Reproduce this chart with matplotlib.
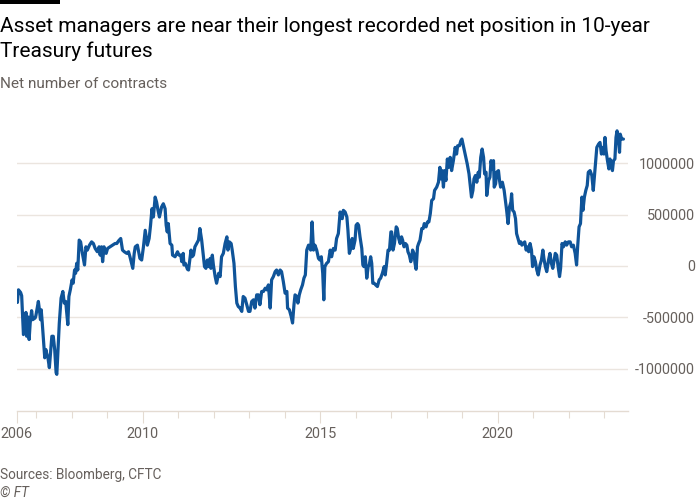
import matplotlib
matplotlib.use("Agg")
import matplotlib.pyplot as plt
from matplotlib.patches import Rectangle
import numpy as np

# ---- data (decimal year, net contracts in thousands) ----
period_2006_2010 = [
    (2006.45, -297), (2006.47, -355), (2006.50, -232), (2006.56, -258), (2006.59, -290),
    (2006.64, -668), (2006.67, -619), (2006.71, -452), (2006.73, -684), (2006.75, -635),
    (2006.78, -497), (2006.80, -716), (2006.83, -555), (2006.87, -435), (2006.90, -523),
    (2006.97, -506), (2006.99, -484), (2007.06, -345), (2007.09, -426), (2007.12, -523),
    (2007.14, -426), (2007.17, -555), (2007.22, -797), (2007.24, -894), (2007.27, -813),
    (2007.29, -845), (2007.33, -894), (2007.37, -990), (2007.41, -813), (2007.44, -684),
    (2007.48, -684), (2007.52, -813), (2007.56, -1039), (2007.58, -1055), (2007.61, -845),
    (2007.65, -555), (2007.70, -313), (2007.75, -248), (2007.79, -361), (2007.83, -345),
    (2007.89, -571), (2007.92, -297), (2007.96, -232), (2008.01, -135), (2008.04, -168),
    (2008.08, -39), (2008.11, -71), (2008.14, 26), (2008.17, -39), (2008.21, 252),
    (2008.25, 235), (2008.30, 123), (2008.36, 10), (2008.40, 187), (2008.44, 155),
    (2008.50, 203), (2008.56, 235), (2008.61, 219), (2008.66, 171), (2008.72, 139),
    (2008.77, 187), (2008.80, 106), (2008.84, 187), (2008.87, 42), (2008.91, 187),
    (2008.97, 123), (2009.01, 171), (2009.08, 187), (2009.15, 203), (2009.22, 219),
    (2009.27, 219), (2009.32, 245), (2009.38, 268), (2009.43, 155), (2009.48, 139),
    (2009.55, 123), (2009.60, 139), (2009.64, 90), (2009.72, -23), (2009.76, 123),
    (2009.79, 187), (2009.85, 203), (2009.92, 74), (2009.97, 58), (2010.02, 187),
    (2010.07, 348), (2010.13, 203), (2010.18, 268), (2010.22, 397), (2010.26, 558),
    (2010.30, 477), (2010.35, 671), (2010.39, 623), (2010.43, 542), (2010.47, 477),
]
period_2010_2015 = [
    (2010.53, 574), (2010.58, 606), (2010.63, 558), (2010.66, 397), (2010.69, 332),
    (2010.72, 413), (2010.77, 219), (2010.82, 203), (2010.84, 106), (2010.91, 90),
    (2010.98, 139), (2011.02, 106), (2011.07, 106), (2011.10, 42), (2011.14, 123),
    (2011.16, 10), (2011.20, 26), (2011.26, -32), (2011.29, -39), (2011.33, 74),
    (2011.36, 155), (2011.39, 90), (2011.43, 106), (2011.47, 187), (2011.52, 219),
    (2011.57, 252), (2011.61, 365), (2011.66, 252), (2011.69, 155), (2011.74, -6),
    (2011.78, -23), (2011.82, 58), (2011.86, -6), (2011.90, 74), (2011.92, -23),
    (2011.96, 106), (2011.99, 10), (2012.04, -103), (2012.08, -168), (2012.14, -71),
    (2012.18, -103), (2012.22, 90), (2012.27, 123), (2012.32, 219), (2012.37, 284),
    (2012.40, 155), (2012.44, 235), (2012.49, 219), (2012.52, 155), (2012.57, 26),
    (2012.61, -200), (2012.65, -361), (2012.69, -394), (2012.74, -410), (2012.79, -442),
    (2012.83, -297), (2012.88, -313), (2012.93, -377), (2012.98, -442), (2013.02, -442),
    (2013.07, -345), (2013.12, -329), (2013.16, -410), (2013.21, -281), (2013.26, -281),
    (2013.30, -377), (2013.35, -248), (2013.40, -248), (2013.45, -216), (2013.49, -232),
    (2013.54, -184), (2013.59, -410), (2013.63, -135), (2013.68, -103), (2013.73, -55),
    (2013.77, -39), (2013.82, -87), (2013.87, -39), (2013.91, -55), (2013.96, -152),
    (2014.01, -265), (2014.06, -248), (2014.08, -410), (2014.13, -426), (2014.18, -490),
    (2014.22, -555), (2014.26, -377), (2014.29, -281), (2014.34, -297), (2014.37, -361),
    (2014.41, -281), (2014.45, -232), (2014.50, -184), (2014.54, -119), (2014.58, -87),
    (2014.62, 155), (2014.67, 203), (2014.73, 155), (2014.77, 429), (2014.81, 155),
    (2014.85, 203), (2014.90, 155), (2014.95, 74), (2014.99, 58), (2015.03, 90),
    (2015.07, -71), (2015.10, -329), (2015.13, -6), (2015.18, 26),
]
period_2015_2019 = [
    (2015.23, 42), (2015.28, 155), (2015.32, 90), (2015.37, 171), (2015.42, 155),
    (2015.46, 268), (2015.51, 316), (2015.56, 526), (2015.59, 477), (2015.62, 461),
    (2015.65, 542), (2015.70, 526), (2015.75, 477), (2015.78, 348), (2015.82, 123),
    (2015.86, 171), (2015.90, 268), (2015.93, 171), (2015.98, 252), (2016.01, 397),
    (2016.05, 413), (2016.08, 397), (2016.12, 284), (2016.17, 171), (2016.20, 10),
    (2016.23, -6), (2016.27, 90), (2016.31, -119), (2016.35, -6), (2016.38, 10),
    (2016.42, 90), (2016.45, 26), (2016.48, -168), (2016.52, -168), (2016.56, -184),
    (2016.61, -200), (2016.66, -135), (2016.70, -119), (2016.75, -71), (2016.80, -6),
    (2016.83, -87), (2016.87, 26), (2016.91, 155), (2016.95, 155), (2016.99, 332),
    (2017.01, 332), (2017.05, 155), (2017.09, 219), (2017.14, 381), (2017.17, 365),
    (2017.21, 268), (2017.25, 219), (2017.29, 284), (2017.32, 252), (2017.36, 187),
    (2017.40, 219), (2017.44, 203), (2017.47, 139), (2017.51, 106), (2017.55, 42),
    (2017.58, 90), (2017.60, 155), (2017.64, 123), (2017.67, 26), (2017.70, -32),
    (2017.74, 187), (2017.77, 219), (2017.81, 252), (2017.86, 365), (2017.90, 365),
    (2017.93, 413), (2017.98, 381), (2018.02, 429), (2018.06, 429), (2018.10, 510),
    (2018.14, 639), (2018.19, 655), (2018.22, 736), (2018.28, 768), (2018.33, 816),
    (2018.37, 961), (2018.39, 848), (2018.43, 929), (2018.47, 768), (2018.50, 929),
    (2018.54, 832), (2018.58, 1042), (2018.62, 961), (2018.66, 1058), (2018.70, 929),
    (2018.75, 1026), (2018.80, 1155), (2018.84, 1090), (2018.87, 1171), (2018.92, 1171),
    (2018.96, 1219), (2018.99, 1236), (2019.03, 1171), (2019.07, 1107), (2019.11, 1042),
    (2019.14, 994), (2019.19, 897), (2019.22, 800), (2019.26, 671), (2019.30, 736),
    (2019.33, 848), (2019.37, 881), (2019.41, 816), (2019.45, 913), (2019.48, 865),
    (2019.52, 1058), (2019.56, 1139), (2019.60, 1058), (2019.63, 897), (2019.67, 913),
    (2019.69, 687),
]
period_2019_2023 = [
    (2019.74, 832), (2019.78, 865), (2019.81, 1026), (2019.85, 945), (2019.88, 1026),
    (2019.90, 768), (2019.94, 800), (2019.97, 913), (2020.02, 929), (2020.05, 832),
    (2020.08, 768), (2020.13, 816), (2020.18, 736), (2020.21, 655), (2020.25, 542),
    (2020.29, 413), (2020.33, 574), (2020.37, 623), (2020.39, 703), (2020.42, 542),
    (2020.46, 526), (2020.50, 461), (2020.53, 316), (2020.57, 268), (2020.61, 219),
    (2020.65, 235), (2020.68, 203), (2020.72, 219), (2020.76, 235), (2020.80, 155),
    (2020.83, 187), (2020.87, 139), (2020.91, 219), (2020.95, 155), (2020.98, -6),
    (2021.02, 90), (2021.06, 42), (2021.10, -39), (2021.14, -87), (2021.19, 10),
    (2021.23, 58), (2021.27, 155), (2021.30, 74), (2021.34, -6), (2021.38, -55),
    (2021.43, 58), (2021.47, 123), (2021.51, 26), (2021.55, -23), (2021.59, 58),
    (2021.62, 123), (2021.66, 106), (2021.70, -6), (2021.74, -103), (2021.77, -23),
    (2021.81, 219), (2021.85, 187), (2021.90, 235), (2021.94, 203), (2021.99, 235),
    (2022.04, 235), (2022.08, 187), (2022.13, 203), (2022.18, 123), (2022.22, 10),
    (2022.25, 187), (2022.29, 381), (2022.33, 413), (2022.37, 671), (2022.40, 542),
    (2022.44, 671), (2022.48, 736), (2022.52, 784), (2022.55, 913), (2022.60, 929),
    (2022.65, 881), (2022.69, 736), (2022.72, 865), (2022.76, 1026), (2022.79, 1155),
    (2022.84, 1187), (2022.88, 1203), (2022.92, 1090), (2022.96, 1155), (2022.99, 1090),
    (2023.02, 1252), (2023.05, 1123), (2023.09, 1026), (2023.13, 945), (2023.16, 1042),
    (2023.20, 977), (2023.23, 929), (2023.26, 1026), (2023.30, 1042), (2023.33, 1252),
    (2023.36, 1316), (2023.39, 1268), (2023.43, 1107), (2023.45, 1284), (2023.49, 1236),
    (2023.54, 1236),
]

y_ticks = [-1000000, -500000, 0, 500000, 1000000]
y_tick_labels = ["-1000000", "-500000", "0", "500000", "1000000"]
x_major_ticks = [2006.45, 2010, 2015, 2020]
x_major_labels = ["2006", "2010", "2015", "2020"]
x_minor_ticks = list(range(2007, 2024))

title_lines = ["Asset managers are near their longest recorded net position in 10-year",
               "Treasury futures"]
subtitle = "Net number of contracts"
source = "Sources: Bloomberg, CFTC"
credit = "\u00a9 FT"

# ---- figure ----
W, H = 700, 500
plt.rcParams["font.family"] = ["Roboto", "DejaVu Sans"]
fig = plt.figure(figsize=(W / 100, H / 100), dpi=100, facecolor="white")

ax_left, ax_right, ax_top, ax_bottom = 16.7, 627.7, 110.0, 410.7
ax = fig.add_axes([ax_left / W, 1 - ax_bottom / H, (ax_right - ax_left) / W, (ax_bottom - ax_top) / H])
ax.set_facecolor("white")

all_pts = period_2006_2010 + period_2010_2015 + period_2015_2019 + period_2019_2023
xs = np.array([p[0] for p in all_pts])
ys = np.array([p[1] for p in all_pts]) * 1000.0
ax.plot(xs, ys, color="#0f5499", lw=2.3, solid_joinstyle="round", solid_capstyle="round", zorder=3)

ax.set_xlim(2006.45, 2023.66)
ax.set_ylim(-1.409e6, 1.519e6)

for s in ["top", "left", "right"]:
    ax.spines[s].set_visible(False)
ax.spines["bottom"].set_color("#e4dbd2")
ax.spines["bottom"].set_linewidth(1.0)

grid_c = "#ebe5df"
ax.set_yticks(y_ticks)
ax.set_yticklabels(y_tick_labels)
ax.yaxis.tick_right()
ax.tick_params(axis="y", length=0, pad=48.5, labelsize=10.4, labelcolor="#66605c")
for lbl in ax.get_yticklabels():
    lbl.set_horizontalalignment("right")
ax.grid(axis="y", color=grid_c, lw=1.0, zorder=0)

ax.set_xticks(x_major_ticks)
ax.set_xticklabels(x_major_labels)
ax.set_xticks(x_minor_ticks, minor=True)
ax.tick_params(axis="x", which="major", length=8.4, width=0.8, color="#e4dbd2",
               pad=3.5, labelsize=10.4, labelcolor="#66605c")
ax.tick_params(axis="x", which="minor", length=5.0, width=0.8, color="#e4dbd2")

# ---- texts ----
renderer = fig.canvas.get_renderer()

def fit_text(x_px, base_px, s, target_w, **kw):
    t = fig.text(x_px / W, 1 - base_px / H, s, ha="left", va="baseline", fontsize=10, **kw)
    w = t.get_window_extent(renderer).width
    t.set_fontsize(10 * target_w / w)
    return t

fit_text(0, 31.7, title_lines[0], 652, color="#000000")
t2 = fig.text(0, 1 - 57.3 / H, title_lines[1], ha="left", va="baseline", color="#000000")
t2.set_fontsize(fig.texts[0].get_fontsize())
fit_text(0, 88.3, subtitle, 167, color="#66605c")
fit_text(0, 479, source, 161, color="#66605c")
c = fig.text(0, 1 - 496.7 / H, credit, ha="left", va="baseline", style="italic", color="#66605c")
c.set_fontsize(fig.texts[-2].get_fontsize())

fig.add_artist(Rectangle((0, 1 - 4 / H), 60 / W, 4 / H, transform=fig.transFigure,
                         facecolor="black", edgecolor="none"))

fig.savefig("out.png", dpi=100, facecolor="white")
